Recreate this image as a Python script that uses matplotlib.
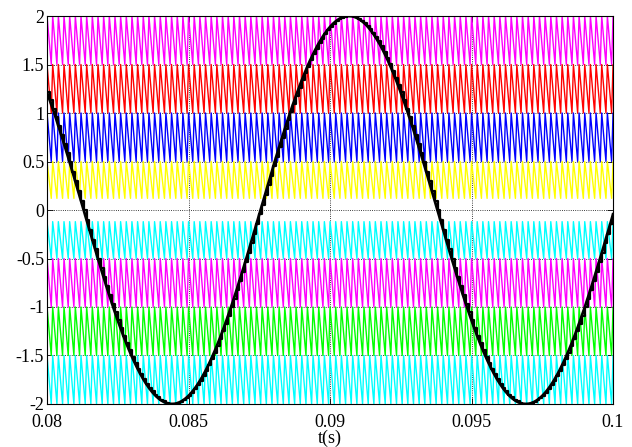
import numpy as np
import matplotlib.pyplot as plt

plt.rcParams['font.family'] = ['Liberation Serif', 'DejaVu Serif']
plt.rcParams['font.size'] = 13

# carrier bands (lower / upper level, colour), top to bottom
band_lo = [1.5, 1.0, 0.5, 0.12, -0.5, -1.0, -1.5, -2.0]
band_hi = [2.0, 1.5, 1.0, 0.5, -0.12, -0.5, -1.0, -1.5]
band_colors = ['#ff00ff', '#ff0000', '#0000ff', '#ffff00',
               '#00ffff', '#ff00ff', '#00ff00', '#00ffff']
carrier_freq = 5000.0      # Hz
carrier_fall = 0.75        # fraction of period spent on the slow edge

# modulating reference
ref_amp = 2.0
ref_freq = 80.0            # Hz
ref_peak_t = 0.09067       # time of the positive peak
sample_freq = 10000.0      # sample-and-hold rate of the staircase

t_start, t_end = 0.08, 0.1
x_ticks = [0.08, 0.085, 0.09, 0.095, 0.1]
x_ticklabels = ['0.08', '0.085', '0.09', '0.095', '0.1']
y_ticks = [-2, -1.5, -1, -0.5, 0, 0.5, 1, 1.5, 2]
y_ticklabels = ['-2', '-1.5', '-1', '-0.5', '0', '0.5', '1', '1.5', '2']

fig = plt.figure(figsize=(6.32, 4.47), dpi=100)
ax = fig.add_axes([0.0744, 0.0962, 0.8956, 0.8680])

# carrier corner points: top at k*T, bottom at (k+fall)*T
T = 1.0 / carrier_freq
k = np.arange(0, int(round((t_end - t_start) / T)) + 1)
tc = np.empty(2 * len(k))
tc[0::2] = t_start + k * T
tc[1::2] = t_start + (k + carrier_fall) * T
shape = np.empty(2 * len(k))
shape[0::2] = 1.0
shape[1::2] = 0.0

for lo, hi, col in zip(band_lo, band_hi, band_colors):
    ax.plot(tc, lo + (hi - lo) * shape, color=col, lw=1.0, zorder=2)

# reference and its sampled staircase
tf = np.linspace(t_start, t_end, 2001)
ax.plot(tf, ref_amp * np.cos(2 * np.pi * ref_freq * (tf - ref_peak_t)),
        color='black', lw=2.0, zorder=3)
ts = np.arange(t_start, t_end + 1e-9, 1.0 / sample_freq)
vs = ref_amp * np.cos(2 * np.pi * ref_freq * (ts - ref_peak_t))
ax.plot(ts, vs, drawstyle='steps-post', color='black', lw=1.6, zorder=3)

ax.set_xlim(t_start, t_end)
ax.set_ylim(-2, 2)
ax.set_xticks(x_ticks)
ax.set_xticklabels(x_ticklabels)
ax.set_yticks(y_ticks)
ax.set_yticklabels(y_ticklabels)
ax.tick_params(direction='in', top=True, right=True, length=4, width=0.6)
ax.tick_params(axis='y', pad=2)
ax.tick_params(axis='x', pad=7)
ax.grid(True, color='black', linestyle=':', linewidth=0.6, zorder=1)
ax.set_axisbelow(True)
for s in ax.spines.values():
    s.set_linewidth(0.8)
    s.set_zorder(4)
ax.set_xlabel('t(s)', labelpad=-1)

fig.savefig('out.png', dpi=100)
